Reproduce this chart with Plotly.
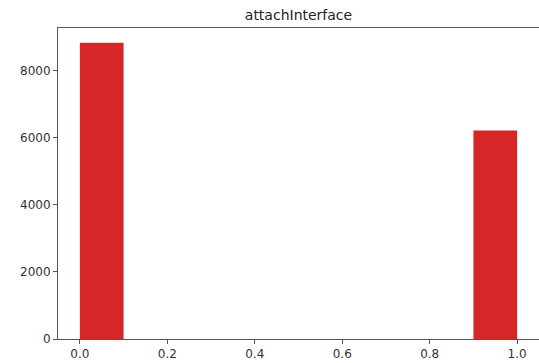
import plotly.graph_objects as go

bin_edges = [0.0, 0.1, 0.2, 0.3, 0.4, 0.5, 0.6, 0.7, 0.8, 0.9, 1.0]
counts = [8840, 0, 0, 0, 0, 0, 0, 0, 0, 6220]
title = "attachInterface"
x_ticks = [0.0, 0.2, 0.4, 0.6, 0.8, 1.0]
y_ticks = [0, 2000, 4000, 6000, 8000]

centers = [(a + b) / 2 for a, b in zip(bin_edges[:-1], bin_edges[1:])]
widths = [b - a for a, b in zip(bin_edges[:-1], bin_edges[1:])]

fig = go.Figure(go.Bar(x=centers, y=counts, width=widths,
                       marker=dict(color="#d62728", line=dict(width=0))))

ymax = max(counts) * 1.05
fig.update_layout(
    width=539, height=363,
    margin=dict(l=58, r=0, t=28, b=24),
    paper_bgcolor="white", plot_bgcolor="white",
    showlegend=False,
    title=dict(text=title, x=(58 + 539) / 2 / 539, xanchor="center",
               y=1 - 15 / 363, yanchor="middle",
               font=dict(family="DejaVu Sans", size=14, color="#222")),
    font=dict(family="DejaVu Sans", size=12, color="#333"),
)
fig.update_xaxes(range=[-0.05, 1.05], tickvals=x_ticks,
                 ticktext=[f"{v:.1f}" for v in x_ticks],
                 showgrid=False, zeroline=False,
                 showline=True, linecolor="#555", linewidth=1, mirror=True,
                 ticks="outside", ticklen=4, tickcolor="#555")
fig.update_yaxes(range=[0, ymax], tickvals=y_ticks,
                 showgrid=False, zeroline=False,
                 showline=True, linecolor="#555", linewidth=1, mirror=True,
                 ticks="outside", ticklen=4, tickcolor="#555")

fig.write_html("out.html")
